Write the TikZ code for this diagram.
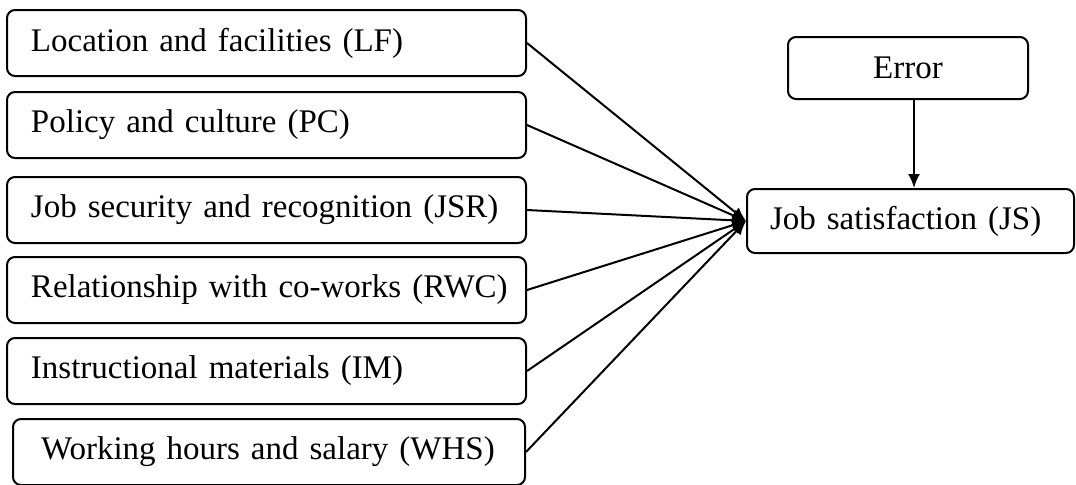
\documentclass[tikz,border=0pt]{standalone}
\usepackage{fontspec}
\setmainfont{Liberation Serif}
\usetikzlibrary{arrows.meta}
\pgfdeclarelayer{edgelayer}
\pgfdeclarelayer{nodelayer}
\pgfsetlayers{edgelayer,nodelayer,main}
\tikzstyle{factor}=[draw=black,fill=white,rounded corners=4pt,line width=1pt,font=\fontsize{16.5}{20}\selectfont,inner xsep=12pt,text width=235.5pt,align=left,minimum height=33pt]
\tikzstyle{outcome}=[draw=black,fill=white,rounded corners=4pt,line width=1pt,font=\fontsize{16.5}{20}\selectfont,inner xsep=11.5pt,align=left,minimum height=32pt]
\tikzstyle{effect}=[-{Latex[length=7pt,width=6pt]},draw=black,line width=1pt]

\begin{document}
\begin{tikzpicture}[x=0.5pt,y=-0.5pt]
	\useasboundingbox (0,0) rectangle (1076,484);
	\begin{pgfonlayer}{nodelayer}
		\node [style=factor] (0) at (266.5, 43) {\mbox{Location and facilities (LF)}};
		\node [style=factor] (1) at (266.5, 125) {\mbox{Policy and culture (PC)}};
		\node [style=factor] (2) at (266.5, 210) {\mbox{Job security and recognition (JSR)}};
		\node [style=factor] (3) at (266.5, 290) {\mbox{Relationship with co-works (RWC)}};
		\node [style=factor] (4) at (266.5, 371) {\mbox{Instructional materials (IM)}};
		\node [style=factor, inner xsep=14pt, text width=228pt] (5) at (269, 452) {\mbox{Working hours and salary (WHS)}};
		\node [style=outcome, align=center, minimum width=120pt, minimum height=31pt] (6) at (908, 68) {Error};
		\node [style=outcome, text width=140.5pt] (7) at (910.5, 221) {\mbox{Job satisfaction (JS)}};
	\end{pgfonlayer}
	\begin{pgfonlayer}{edgelayer}
		\draw [style=effect] (0.east) to (7.west);
		\draw [style=effect] (1.east) to (7.west);
		\draw [style=effect] (2.east) to (7.west);
		\draw [style=effect] (3.east) to (7.west);
		\draw [style=effect] (4.east) to (7.west);
		\draw [style=effect] (5.east) to (7.west);
		\draw [style=effect] ([xshift=3pt]6.south) to ([xshift=3pt]6.south |- 7.north);
	\end{pgfonlayer}
\end{tikzpicture}
\end{document}
